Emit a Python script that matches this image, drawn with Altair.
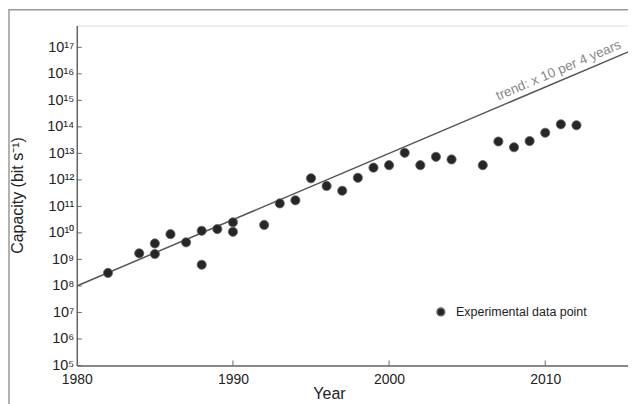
import altair as alt
import pandas as pd

# Experimental data points (year, capacity in bit/s)
years = [1982, 1984, 1985, 1985, 1986, 1987, 1988, 1988, 1989, 1990, 1990,
         1992, 1993, 1994, 1995, 1996, 1997, 1998, 1999, 2000, 2001, 2002,
         2003, 2004, 2006, 2007, 2008, 2009, 2010, 2011, 2012]
capacity = [3.1e8, 1.7e9, 4.0e9, 1.6e9, 9.0e9, 4.4e9, 1.2e10, 6.3e8, 1.4e10, 2.5e10, 1.1e10,
            2.0e10, 1.3e11, 1.7e11, 1.15e12, 5.9e11, 3.9e11, 1.2e12, 2.9e12, 3.6e12, 1.05e13, 3.6e12,
            7.4e12, 5.9e12, 3.6e12, 2.8e13, 1.7e13, 2.9e13, 6.0e13, 1.25e14, 1.15e14]

# Trend line: x10 per 4 years
trend_years = [1980, 2016]
trend_values = [1e8, 1e17]

ytick_values = [10.0 ** e for e in range(5, 18)]
xtick_values = [1990, 2000, 2010]
xlabel_values = [1980, 1990, 2000, 2010]

FONT = "Liberation Sans"
W, H = 553, 341

df = pd.DataFrame({"Year": years, "Capacity": capacity,
                   "series": ["Experimental data point"] * len(years)})
df_trend = pd.DataFrame({"Year": trend_years, "Capacity": trend_values})
df_label = pd.DataFrame({"Year": [2011.1], "Capacity": [10 ** 15.78],
                         "text": ["trend: x 10 per 4 years"]})
df_yt = pd.DataFrame({"v": ytick_values})
df_xt = pd.DataFrame({"Year": xtick_values})
df_frame = pd.DataFrame({"k": [0]})

xscale = alt.Scale(domain=[1980, 2015.3], nice=False, zero=False)
yscale = alt.Scale(type="log", domain=[1e5, 10 ** 17.82], nice=False)

sup = "'⁰¹²³⁴⁵⁶⁷⁸⁹'"
e = "round(log(datum.value)/LN10)"
ylabel_expr = (
    f"'10' + ({e} >= 10 ? substring({sup}, floor({e}/10), floor({e}/10)+1) : '')"
    f" + substring({sup}, {e}%10, {e}%10+1)"
)

xaxis = alt.Axis(values=xlabel_values, format="d", title="Year", tickSize=0,
                 domain=True, domainColor="#666", domainWidth=1.5, grid=False,
                 labelFlush=False, labelFontSize=14, labelPadding=7,
                 labelColor="#222", labelFont=FONT, titleFont=FONT,
                 titleFontSize=16, titleFontWeight="normal", titleColor="#222",
                 titleX=253, titleY=20, titleBaseline="top")
yaxis = alt.Axis(values=ytick_values, labelExpr=ylabel_expr,
                 title="Capacity (bit s⁻¹)", tickSize=0, domain=True,
                 domainColor="#666", domainWidth=1.5, grid=False,
                 labelFontSize=14.5, labelPadding=3, labelColor="#222", labelFont=FONT,
                 labelFlush=False,
                 titleFont=FONT, titleFontSize=16, titleFontWeight="normal",
                 titleColor="#222", titleX=-51, titleY=170)

points = alt.Chart(df).mark_circle(size=85, opacity=1, stroke="#666",
                                   strokeWidth=0.8).encode(
    x=alt.X("Year:Q", scale=xscale, axis=xaxis),
    y=alt.Y("Capacity:Q", scale=yscale, axis=yaxis),
    color=alt.Color("series:N", scale=alt.Scale(range=["#262626"]),
                    legend=alt.Legend(title=None, orient="none", legendX=359,
                                      legendY=281, symbolType="circle",
                                      symbolSize=60, labelFontSize=12.5,
                                      labelFont=FONT, labelColor="#222",
                                      labelOffset=9)),
)

trend = alt.Chart(df_trend).mark_line(color="#555", strokeWidth=1.5, clip=True).encode(
    x=alt.X("Year:Q", scale=xscale),
    y=alt.Y("Capacity:Q", scale=yscale),
)

label = alt.Chart(df_label).mark_text(angle=337, align="center", baseline="bottom",
                                      dy=-3, fontSize=13.5, font=FONT,
                                      color="#888").encode(
    x=alt.X("Year:Q", scale=xscale),
    y=alt.Y("Capacity:Q", scale=yscale),
    text="text:N",
)

yticks = alt.Chart(df_yt).mark_rule(color="#666", strokeWidth=1).encode(
    y=alt.Y("v:Q", scale=yscale),
    x=alt.value(0), x2=alt.value(5),
)
xticks = alt.Chart(df_xt).mark_rule(color="#666", strokeWidth=1).encode(
    x=alt.X("Year:Q", scale=xscale),
    y=alt.value(H), y2=alt.value(H - 5),
)

frame = alt.Chart(df_frame).mark_rect(fill=None, stroke="#999", strokeWidth=1.5).encode(
    x=alt.value(-68), x2=alt.value(W + 3),
    y=alt.value(-16), y2=alt.value(H + 80),
)

chart = alt.layer(frame, trend, yticks, xticks, points, label).properties(
    width=W, height=H,
    autosize=alt.AutoSizeParams(type="none"),
    padding={"left": 69, "top": 17, "right": 0, "bottom": 38},
).configure_view(stroke="#666", strokeWidth=1.5).configure(background="white")

chart.save("out.html", embed_options={"renderer": "svg", "actions": False})
